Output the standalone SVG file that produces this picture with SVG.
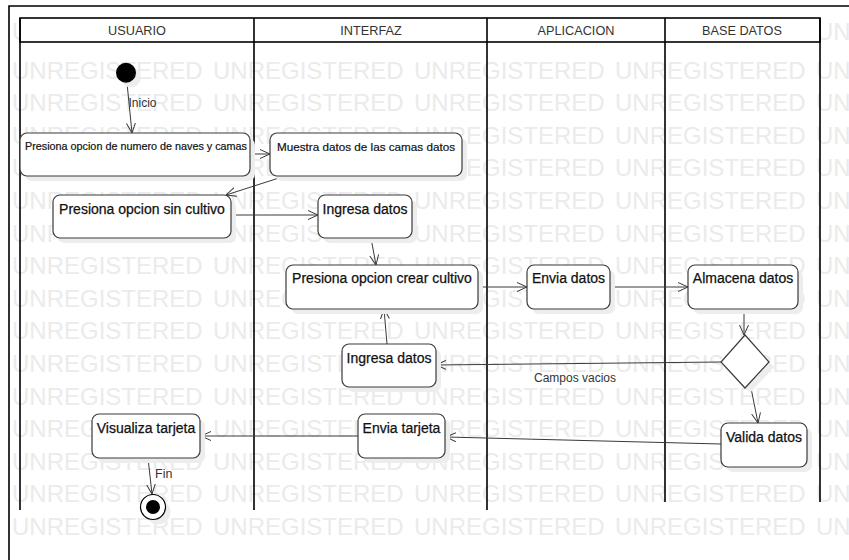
<svg xmlns="http://www.w3.org/2000/svg" xmlns:xlink="http://www.w3.org/1999/xlink" width="849" height="560" viewBox="0 0 849 560">
<style>
.wm{font-family:"Liberation Sans",Arial,sans-serif;font-size:24px;fill:#ebebeb}
.frame{stroke:#000;stroke-width:1.6;fill:none}
.hdrbox{fill:#fff;stroke:#000;stroke-width:1.6}
.hdr{font-family:"Liberation Sans",Arial,sans-serif;font-size:12.7px;fill:#333;text-anchor:middle}
.shadow{fill:#ededed}
.box{fill:#fff;stroke:#3a3a3a;stroke-width:1.2}
.nt{font-family:"Liberation Sans",Arial,sans-serif;font-size:14px;fill:#111;stroke:#111;stroke-width:0.25;text-anchor:middle}
.edge{stroke:#3a3a3a;stroke-width:1;fill:none;marker-end:url(#arr)}
.lbl{font-family:"Liberation Sans",Arial,sans-serif;font-size:12px;fill:#333}
</style>
<defs>
<marker id="arr" viewBox="0 0 10 10" refX="10" refY="5" markerWidth="10" markerHeight="10" markerUnits="userSpaceOnUse" orient="auto">
<path d="M0,0.5 L10,5 L0,9.5" fill="none" stroke="#3a3a3a" stroke-width="1"/>
</marker>
<g id="wmrow">
<text class="wm"><tspan x="12">UNREGISTERED</tspan><tspan x="213">UNREGISTERED</tspan><tspan x="414">UNREGISTERED</tspan><tspan x="615">UNREGISTERED</tspan><tspan x="816">UNREGISTERED</tspan></text>
</g>
</defs>
<rect x="0" y="0" width="849" height="560" fill="#fff"/>
<g id="watermark">
<use xlink:href="#wmrow" y="40"/>
<use xlink:href="#wmrow" y="78.6"/>
<use xlink:href="#wmrow" y="111.2"/>
<use xlink:href="#wmrow" y="143.8"/>
<use xlink:href="#wmrow" y="176.4"/>
<use xlink:href="#wmrow" y="209"/>
<use xlink:href="#wmrow" y="241.6"/>
<use xlink:href="#wmrow" y="274.2"/>
<use xlink:href="#wmrow" y="306.8"/>
<use xlink:href="#wmrow" y="339.4"/>
<use xlink:href="#wmrow" y="372"/>
<use xlink:href="#wmrow" y="404.6"/>
<use xlink:href="#wmrow" y="437.2"/>
<use xlink:href="#wmrow" y="469.8"/>
<use xlink:href="#wmrow" y="502.4"/>
<use xlink:href="#wmrow" y="535"/>
</g>
<g id="frame">
<path class="frame" d="M9,560 V6 H849"/>
</g>
<g id="lanes">
<rect class="hdrbox" x="20" y="18" width="800" height="24"/>
<path class="frame" d="M20,18 V510 M254,18 V510 M487,18 V510 M665,18 V502 M820,18 V502"/>
<text class="hdr" x="137" y="35">USUARIO</text>
<text class="hdr" x="371" y="35">INTERFAZ</text>
<text class="hdr" x="576" y="35">APLICACION</text>
<text class="hdr" x="742" y="35">BASE DATOS</text>
</g>
<g id="connectors">
<line class="edge" x1="127" y1="83" x2="132" y2="133"/>
<line class="edge" x1="250" y1="154" x2="270" y2="154"/>
<line class="edge" x1="282" y1="177" x2="226" y2="195"/>
<line class="edge" x1="231" y1="215" x2="318" y2="215"/>
<line class="edge" x1="371" y1="238" x2="376" y2="265"/>
<line class="edge" x1="478" y1="287" x2="527" y2="287"/>
<line class="edge" x1="610" y1="287" x2="688" y2="287"/>
<line class="edge" x1="744" y1="309" x2="744" y2="335"/>
<line class="edge" x1="721" y1="362" x2="436" y2="365"/>
<line class="edge" x1="387" y1="344" x2="384" y2="309"/>
<line class="edge" x1="751" y1="388" x2="758" y2="423"/>
<line class="edge" x1="721" y1="444" x2="446" y2="437"/>
<line class="edge" x1="358" y1="436" x2="201" y2="436"/>
<line class="edge" x1="148" y1="458" x2="152" y2="494"/>
<text class="lbl" x="128.5" y="107">Inicio</text>
<text class="lbl" x="534" y="382">Campos vacios</text>
<text class="lbl" x="155" y="478" style="font-size:12.5px">Fin</text>
</g>
<g id="start">
<circle class="shadow" cx="131" cy="77.5" r="10"/>
<circle cx="126" cy="72.7" r="10" fill="#000"/>
</g>
<g id="n1">
<rect class="shadow" x="25" y="138" width="230" height="43" rx="7"/>
<rect class="box" x="20" y="133" width="230" height="43" rx="7"/>
<text class="nt" x="136" y="149.5" style="font-size:10.8px;stroke-width:0.2">Presiona opcion de numero de naves y camas</text>
</g>
<g id="n2">
<rect class="shadow" x="275" y="138" width="192" height="43" rx="7"/>
<rect class="box" x="270" y="133" width="192" height="43" rx="7"/>
<text class="nt" x="366" y="150.5" style="font-size:11.7px;stroke-width:0.2">Muestra datos de las camas datos</text>
</g>
<g id="n3">
<rect class="shadow" x="58" y="200" width="178" height="43" rx="7"/>
<rect class="box" x="53" y="195" width="178" height="43" rx="7"/>
<text class="nt" x="142" y="213.5">Presiona opcion sin cultivo</text>
</g>
<g id="n4">
<rect class="shadow" x="323" y="200" width="94" height="43" rx="7"/>
<rect class="box" x="318" y="195" width="94" height="43" rx="7"/>
<text class="nt" x="365" y="213.5">Ingresa datos</text>
</g>
<g id="n5">
<rect class="shadow" x="291" y="270" width="192" height="44" rx="7"/>
<rect class="box" x="286" y="265" width="192" height="44" rx="7"/>
<text class="nt" x="382" y="283.3">Presiona opcion crear cultivo</text>
</g>
<g id="n6">
<rect class="shadow" x="532" y="270" width="83" height="44" rx="7"/>
<rect class="box" x="527" y="265" width="83" height="44" rx="7"/>
<text class="nt" x="568.5" y="283.3">Envia datos</text>
</g>
<g id="n7">
<rect class="shadow" x="693" y="270" width="110" height="44" rx="7"/>
<rect class="box" x="688" y="265" width="110" height="44" rx="7"/>
<text class="nt" x="743" y="283.3">Almacena datos</text>
</g>
<g id="decision">
<polygon class="shadow" points="750,340 774,367 750,393 726,367"/>
<polygon class="box" points="745,335 769,362 745,388 721,362"/>
</g>
<g id="n8">
<rect class="shadow" x="347" y="349" width="94" height="43" rx="7"/>
<rect class="box" x="342" y="344" width="94" height="43" rx="7"/>
<text class="nt" x="389" y="362.5">Ingresa datos</text>
</g>
<g id="n9">
<rect class="shadow" x="726" y="428" width="86" height="44" rx="7"/>
<rect class="box" x="721" y="423" width="86" height="44" rx="7"/>
<text class="nt" x="764" y="441.7">Valida datos</text>
</g>
<g id="n10">
<rect class="shadow" x="363" y="419" width="87" height="44" rx="7"/>
<rect class="box" x="358" y="414" width="87" height="44" rx="7"/>
<text class="nt" x="401.5" y="433">Envia tarjeta</text>
</g>
<g id="n11">
<rect class="shadow" x="97" y="419" width="108" height="44" rx="7"/>
<rect class="box" x="92" y="414" width="108" height="44" rx="7"/>
<text class="nt" x="146" y="433">Visualiza tarjeta</text>
</g>
<g id="end">
<circle class="shadow" cx="158" cy="512" r="12.5"/>
<circle cx="153" cy="507" r="12.5" fill="#fff" stroke="#000" stroke-width="1.2"/>
<circle cx="153" cy="507" r="7" fill="#000"/>
</g>
</svg>
